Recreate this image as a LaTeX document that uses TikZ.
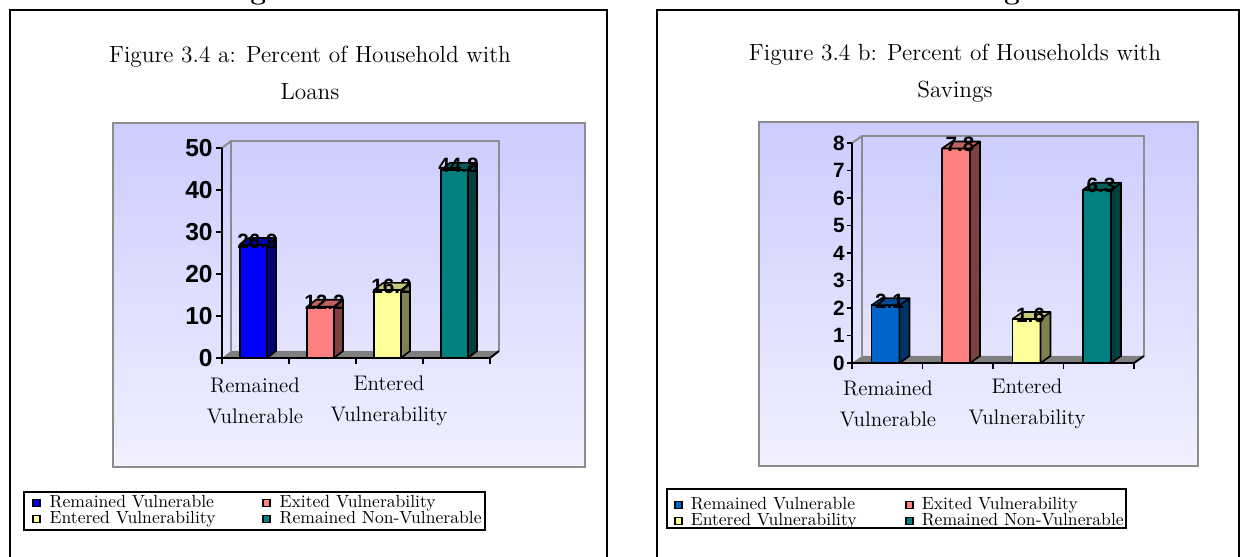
\documentclass[tikz,border=0pt]{standalone}
\usepackage{fontspec}
\newfontfamily\chartsans{Liberation Sans}
\usetikzlibrary{positioning}
\definecolor{mblue}{HTML}{0000FF}
\definecolor{mbluesd}{HTML}{000080}
\definecolor{mbluetp}{HTML}{0000B4}
\definecolor{sblue}{HTML}{0066CC}
\definecolor{sbluesd}{HTML}{003366}
\definecolor{sbluetp}{HTML}{004C99}
\definecolor{msalmon}{HTML}{FF8080}
\definecolor{msalmonsd}{HTML}{804040}
\definecolor{msalmontp}{HTML}{C06060}
\definecolor{myellow}{HTML}{FFFF99}
\definecolor{myellowsd}{HTML}{808050}
\definecolor{myellowtp}{HTML}{C8C87A}
\definecolor{mteal}{HTML}{008080}
\definecolor{mtealsd}{HTML}{004040}
\definecolor{mtealtp}{HTML}{006060}
\definecolor{plottop}{HTML}{CCCCFF}
\definecolor{plotbot}{HTML}{F0F0FF}
\definecolor{wallgray}{HTML}{8C8C8C}
\definecolor{floorgray}{HTML}{7F7F7F}
\tikzstyle{frame}=[draw=black, line width=0.8pt]
\tikzstyle{plotedge}=[draw=wallgray, line width=1.2pt]
\tikzstyle{wall}=[draw=wallgray, line width=1.1pt]
\tikzstyle{axis}=[draw=black, line width=1.1pt]
\tikzstyle{barline}=[draw=black, line width=0.9pt, line join=round]
\tikzstyle{title}=[font=\fontsize{13.3}{21}\selectfont, align=center]
\tikzstyle{catlab}=[font=\fontsize{12}{17.6}\selectfont, align=center]
\tikzstyle{vallab}=[font=\chartsans\bfseries\fontsize{11.8}{12}\selectfont, inner sep=0pt]
\tikzstyle{legbox}=[draw=black, line width=1.1pt]
\tikzstyle{legkey}=[draw=black, line width=0.6pt, minimum size=4pt, inner sep=0pt]
\tikzstyle{legtext}=[font=\fontsize{10}{11}\selectfont, inner sep=0pt, text height=6.6pt, text depth=1.8pt]
% one 3d column: x, value, front, side, top, label name
\newcommand{\colbar}[6]{%
  \filldraw[barline, fill=#3] (#1,\yzero) rectangle (#1+\bw,\yzero-#2*\yunit);
  \filldraw[barline, fill=#4] (#1+\bw,\yzero) -- ++(\dpx,-\dpy) -- ++(0,-#2*\yunit) -- ++(-\dpx,\dpy) -- cycle;
  \filldraw[barline, fill=#5] (#1,\yzero-#2*\yunit) -- ++(\dpx,-\dpy) -- ++(\bw,0) -- ++(-\dpx,\dpy) -- cycle;
  \node[vallab] (#6) at (#1+\bw/2+4,\yzero-#2*\yunit-4) {#2};}

\begin{document}
\begin{tikzpicture}[x=0.02cm, y=-0.02cm]
    \useasboundingbox (0,0) rectangle (1242,557);
    \node[anchor=base, font=\fontsize{16}{18}\selectfont\bfseries] (maintitle) at (627,-0.5) {Figure 3.4: Percent of Households with Loans and Savings};

    % panel a: loans
    \begin{scope}
        \def\yzero{358} \def\yunit{4.2} \def\bw{27} \def\dpx{9} \def\dpy{7}
        \draw[frame] (10,570) -- (10,10) -- (607,10) -- (607,570);
        \node[title] (ta) at (310,73) {Figure 3.4 a: Percent of Household with\\Loans};
        \shade[top color=plottop, bottom color=plotbot] (113,123) rectangle (585,467);
        \draw[plotedge] (113,123) rectangle (585,467);
        \draw[wall] (231,351) -- (231,141) -- (499,141) -- (499,351);
        \draw[wall] (222,148) -- (231,141);
        \fill[floorgray] (222,358) -- (490,358) -- (499,351) -- (231,351) -- cycle;
        \draw[axis] (222,148) -- (222,358) -- (490,358) -- (499,351);
        \foreach \v in {0,10,...,50} {
            \draw[axis] (216,358-\v*4.2) -- (222,358-\v*4.2);
            \node[anchor=east, inner sep=0pt, font=\chartsans\bfseries\fontsize{14}{14}\selectfont] (ya\v) at (213,358-\v*4.2) {\v};
        }
        \foreach \x in {222,289,356,423,490} \draw[axis] (\x,358) -- (\x,364);
        \colbar{240}{26.9}{mblue}{mbluesd}{mbluetp}{va1}
        \colbar{307}{12.2}{msalmon}{msalmonsd}{msalmontp}{va2}
        \colbar{374}{16.2}{myellow}{myellowsd}{myellowtp}{va3}
        \colbar{441}{44.8}{mteal}{mtealsd}{mtealtp}{va4}
        \node[catlab] (ca1) at (255,401) {Remained\\Vulnerable};
        \node[catlab] (ca3) at (389,401) {Entered\\Vulnerability};
        \draw[legbox] (24,492) rectangle (485,530);
        \node[legkey, fill=mblue] at (36.5,503) (ka1) {};
        \node[legkey, fill=myellow] at (36.5,519) (ka3) {};
        \node[legkey, fill=msalmon] at (266.5,503) (ka2) {};
        \node[legkey, fill=mteal] at (266.5,519) (ka4) {};
        \node[legtext, right=5pt of ka1] (la1) {Remained Vulnerable};
        \node[legtext, right=5pt of ka3] (la3) {Entered Vulnerability};
        \node[legtext, right=5pt of ka2] (la2) {Exited Vulnerability};
        \node[legtext, right=5pt of ka4] (la4) {Remained Non-Vulnerable};
    \end{scope}

    % panel b: savings
    \begin{scope}
        \def\yzero{363} \def\yunit{27.5} \def\bw{28} \def\dpx{10} \def\dpy{7}
        \draw[frame] (657,570) -- (657,10) -- (1239,10) -- (1239,570);
        \node[title] (tb) at (955,73) {Figure 3.4 b: Percent of Households with\\Savings};
        \shade[top color=plottop, bottom color=plotbot] (759,122) rectangle (1198,466);
        \draw[plotedge] (759,122) rectangle (1198,466);
        \draw[wall] (862,356) -- (862,136) -- (1144,136) -- (1144,356);
        \draw[wall] (852,143) -- (862,136);
        \fill[floorgray] (852,363) -- (1134,363) -- (1144,356) -- (862,356) -- cycle;
        \draw[axis] (852,143) -- (852,363) -- (1134,363) -- (1144,356);
        \foreach \v in {0,...,8} {
            \draw[axis] (847,363-\v*27.5) -- (852,363-\v*27.5);
            \node[anchor=east, inner sep=0pt, font=\chartsans\bfseries\fontsize{11.8}{12}\selectfont] (yb\v) at (845,363-\v*27.5) {\v};
        }
        \foreach \x in {852,922.5,993,1063.5,1134} \draw[axis] (\x,363) -- (\x,369);
        \colbar{871.5}{2.1}{sblue}{sbluesd}{sbluetp}{vb1}
        \colbar{942}{7.8}{msalmon}{msalmonsd}{msalmontp}{vb2}
        \colbar{1012.5}{1.6}{myellow}{myellowsd}{myellowtp}{vb3}
        \colbar{1083}{6.3}{mteal}{mtealsd}{mtealtp}{vb4}
        \node[catlab] (cb1) at (888,404) {Remained\\Vulnerable};
        \node[catlab] (cb3) at (1027,404) {Entered\\Vulnerability};
        \draw[legbox] (667,489) rectangle (1126,528);
        \node[legkey, fill=sblue] at (678.5,505) (kb1) {};
        \node[legkey, fill=myellow] at (678.5,521) (kb3) {};
        \node[legkey, fill=msalmon] at (909.5,505) (kb2) {};
        \node[legkey, fill=mteal] at (909.5,521) (kb4) {};
        \node[legtext, right=4.5pt of kb1] (lb1) {Remained Vulnerable};
        \node[legtext, right=4.5pt of kb3] (lb3) {Entered Vulnerability};
        \node[legtext, right=4.5pt of kb2] (lb2) {Exited Vulnerability};
        \node[legtext, right=4.5pt of kb4] (lb4) {Remained Non-Vulnerable};
    \end{scope}
\end{tikzpicture}
\end{document}
